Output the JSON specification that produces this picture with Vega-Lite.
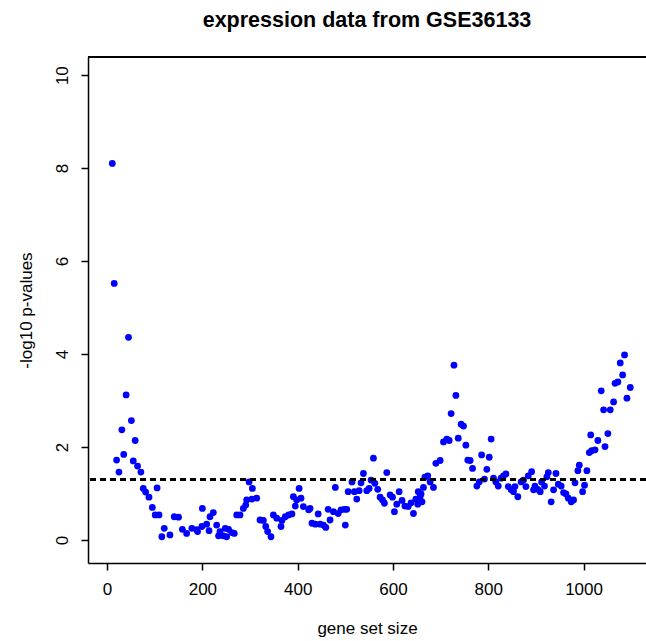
{
  "$schema": "https://vega.github.io/schema/vega-lite/v6.json",
  "autosize": {"type": "none"},
  "padding": {"left": 88, "top": 57, "right": 0, "bottom": 78},
  "width": 558,
  "height": 506,
  "background": "white",
  "title": {
    "text": "expression data from GSE36133",
    "anchor": "middle",
    "font": "Liberation Sans",
    "fontSize": 21.5,
    "fontWeight": "bold",
    "color": "black",
    "baseline": "alphabetic",
    "offset": 8
  },
  "data": {
    "values": [
      {"size": 11, "logp": 8.10}, {"size": 15, "logp": 5.52}, {"size": 45, "logp": 4.36},
      {"size": 40, "logp": 3.12}, {"size": 51, "logp": 2.57}, {"size": 31, "logp": 2.37},
      {"size": 59, "logp": 2.14}, {"size": 20, "logp": 1.72}, {"size": 35, "logp": 1.84},
      {"size": 25, "logp": 1.46}, {"size": 55, "logp": 1.70}, {"size": 64, "logp": 1.59},
      {"size": 71, "logp": 1.46}, {"size": 76, "logp": 1.11}, {"size": 81, "logp": 1.03},
      {"size": 88, "logp": 0.92}, {"size": 105, "logp": 1.12}, {"size": 95, "logp": 0.70},
      {"size": 101, "logp": 0.54}, {"size": 109, "logp": 0.54}, {"size": 120, "logp": 0.25},
      {"size": 115, "logp": 0.07}, {"size": 132, "logp": 0.11}, {"size": 141, "logp": 0.50},
      {"size": 150, "logp": 0.49}, {"size": 158, "logp": 0.23}, {"size": 167, "logp": 0.14},
      {"size": 178, "logp": 0.25}, {"size": 188, "logp": 0.22}, {"size": 199, "logp": 0.29},
      {"size": 200, "logp": 0.68}, {"size": 190, "logp": 0.18}, {"size": 209, "logp": 0.34},
      {"size": 214, "logp": 0.20}, {"size": 216, "logp": 0.50}, {"size": 223, "logp": 0.59},
      {"size": 230, "logp": 0.32}, {"size": 237, "logp": 0.18}, {"size": 234, "logp": 0.09},
      {"size": 244, "logp": 0.09}, {"size": 251, "logp": 0.07}, {"size": 248, "logp": 0.25},
      {"size": 255, "logp": 0.23}, {"size": 262, "logp": 0.16}, {"size": 267, "logp": 0.14},
      {"size": 272, "logp": 0.54}, {"size": 279, "logp": 0.54}, {"size": 286, "logp": 0.68},
      {"size": 291, "logp": 0.75}, {"size": 293, "logp": 0.86}, {"size": 304, "logp": 0.88},
      {"size": 314, "logp": 0.90}, {"size": 298, "logp": 1.25}, {"size": 305, "logp": 1.11},
      {"size": 321, "logp": 0.43}, {"size": 328, "logp": 0.42}, {"size": 333, "logp": 0.29},
      {"size": 337, "logp": 0.18}, {"size": 344, "logp": 0.07}, {"size": 349, "logp": 0.54},
      {"size": 356, "logp": 0.47}, {"size": 365, "logp": 0.29}, {"size": 367, "logp": 0.42},
      {"size": 374, "logp": 0.50}, {"size": 381, "logp": 0.54}, {"size": 388, "logp": 0.56},
      {"size": 403, "logp": 1.11}, {"size": 391, "logp": 0.93}, {"size": 398, "logp": 0.86},
      {"size": 407, "logp": 0.90}, {"size": 412, "logp": 0.72}, {"size": 395, "logp": 0.73},
      {"size": 423, "logp": 0.65}, {"size": 430, "logp": 0.36}, {"size": 426, "logp": 0.68},
      {"size": 437, "logp": 0.34}, {"size": 443, "logp": 0.56}, {"size": 447, "logp": 0.34},
      {"size": 454, "logp": 0.32}, {"size": 459, "logp": 0.27}, {"size": 464, "logp": 0.66},
      {"size": 468, "logp": 0.43}, {"size": 475, "logp": 0.61}, {"size": 479, "logp": 1.13},
      {"size": 485, "logp": 0.57}, {"size": 491, "logp": 0.65}, {"size": 498, "logp": 0.66},
      {"size": 503, "logp": 0.66}, {"size": 500, "logp": 0.32}, {"size": 506, "logp": 1.04},
      {"size": 514, "logp": 1.25}, {"size": 519, "logp": 1.04}, {"size": 524, "logp": 0.88},
      {"size": 529, "logp": 1.06}, {"size": 533, "logp": 1.23}, {"size": 538, "logp": 1.43},
      {"size": 545, "logp": 1.06}, {"size": 550, "logp": 1.11}, {"size": 554, "logp": 1.29},
      {"size": 559, "logp": 1.76}, {"size": 562, "logp": 1.22}, {"size": 568, "logp": 1.09},
      {"size": 573, "logp": 0.92}, {"size": 578, "logp": 0.86}, {"size": 582, "logp": 0.79},
      {"size": 587, "logp": 1.45}, {"size": 594, "logp": 0.97}, {"size": 599, "logp": 0.92},
      {"size": 603, "logp": 0.61}, {"size": 608, "logp": 0.77}, {"size": 613, "logp": 1.04},
      {"size": 619, "logp": 0.85}, {"size": 625, "logp": 0.73}, {"size": 632, "logp": 0.72},
      {"size": 638, "logp": 0.80}, {"size": 643, "logp": 0.57}, {"size": 648, "logp": 0.88},
      {"size": 653, "logp": 1.04}, {"size": 659, "logp": 0.99}, {"size": 664, "logp": 1.13},
      {"size": 667, "logp": 1.35}, {"size": 657, "logp": 0.93}, {"size": 661, "logp": 0.82},
      {"size": 652, "logp": 0.77}, {"size": 673, "logp": 1.38}, {"size": 678, "logp": 1.25},
      {"size": 685, "logp": 1.13}, {"size": 690, "logp": 1.65}, {"size": 699, "logp": 1.71},
      {"size": 706, "logp": 2.11}, {"size": 713, "logp": 2.17}, {"size": 718, "logp": 2.14},
      {"size": 722, "logp": 2.72}, {"size": 728, "logp": 3.76}, {"size": 732, "logp": 3.11},
      {"size": 737, "logp": 2.19}, {"size": 743, "logp": 2.49}, {"size": 748, "logp": 2.45},
      {"size": 753, "logp": 2.04}, {"size": 757, "logp": 1.72}, {"size": 762, "logp": 1.71},
      {"size": 767, "logp": 1.54}, {"size": 776, "logp": 1.16}, {"size": 781, "logp": 1.25},
      {"size": 786, "logp": 1.83}, {"size": 792, "logp": 1.31}, {"size": 797, "logp": 1.52},
      {"size": 802, "logp": 1.78}, {"size": 806, "logp": 2.17}, {"size": 811, "logp": 1.33},
      {"size": 816, "logp": 1.25}, {"size": 821, "logp": 1.16}, {"size": 827, "logp": 1.33},
      {"size": 832, "logp": 1.38}, {"size": 837, "logp": 1.42}, {"size": 842, "logp": 1.15},
      {"size": 848, "logp": 1.08}, {"size": 853, "logp": 1.04}, {"size": 856, "logp": 1.15},
      {"size": 862, "logp": 0.93}, {"size": 869, "logp": 1.25}, {"size": 874, "logp": 1.29},
      {"size": 879, "logp": 1.15}, {"size": 884, "logp": 1.38}, {"size": 891, "logp": 1.47},
      {"size": 895, "logp": 1.08}, {"size": 898, "logp": 1.16}, {"size": 904, "logp": 1.09},
      {"size": 909, "logp": 1.04}, {"size": 912, "logp": 1.25}, {"size": 918, "logp": 1.16},
      {"size": 923, "logp": 1.36}, {"size": 926, "logp": 1.45}, {"size": 932, "logp": 0.82},
      {"size": 937, "logp": 1.08}, {"size": 942, "logp": 1.43}, {"size": 947, "logp": 1.20},
      {"size": 953, "logp": 1.16}, {"size": 958, "logp": 1.02}, {"size": 963, "logp": 0.99},
      {"size": 968, "logp": 0.90}, {"size": 974, "logp": 0.82}, {"size": 979, "logp": 0.86},
      {"size": 982, "logp": 1.23}, {"size": 988, "logp": 1.49}, {"size": 991, "logp": 1.61},
      {"size": 998, "logp": 1.04}, {"size": 1002, "logp": 1.18}, {"size": 1007, "logp": 1.49},
      {"size": 1012, "logp": 1.88}, {"size": 1017, "logp": 1.92}, {"size": 1024, "logp": 1.94},
      {"size": 1030, "logp": 2.14}, {"size": 1015, "logp": 2.26}, {"size": 1045, "logp": 2.01},
      {"size": 1051, "logp": 2.29}, {"size": 1037, "logp": 3.21}, {"size": 1042, "logp": 2.80},
      {"size": 1056, "logp": 2.80}, {"size": 1063, "logp": 2.97}, {"size": 1066, "logp": 3.37},
      {"size": 1072, "logp": 3.40}, {"size": 1082, "logp": 3.55}, {"size": 1077, "logp": 3.81},
      {"size": 1086, "logp": 3.98}, {"size": 1091, "logp": 3.05}, {"size": 1098, "logp": 3.28}
    ]
  },
  "layer": [
    {
      "mark": {"type": "circle", "color": "#0000FF", "opacity": 1, "size": 46},
      "encoding": {
        "x": {
          "field": "size",
          "type": "quantitative",
          "scale": {"domain": [-40, 1131], "nice": false, "zero": false},
          "axis": {
            "title": "gene set size",
            "values": [0, 200, 400, 600, 800, 1000],
            "format": "d",
            "labelFlush": false,
            "labelPadding": 11,
            "titlePadding": 23
          }
        },
        "y": {
          "field": "logp",
          "type": "quantitative",
          "scale": {"domain": [-0.495, 10.39], "nice": false, "zero": false},
          "axis": {
            "title": "-log10 p-values",
            "values": [0, 2, 4, 6, 8, 10],
            "format": "d",
            "labelAngle": 270,
            "labelAlign": "center",
            "labelBaseline": "bottom",
            "labelPadding": 10,
            "titlePadding": 18
          }
        }
      }
    },
    {
      "mark": {"type": "rule", "color": "black", "strokeWidth": 2, "strokeDash": [6, 4]},
      "encoding": {"y": {"datum": 1.301}}
    },
    {
      "mark": {"type": "rule", "color": "black", "strokeWidth": 1.5},
      "encoding": {"y": {"datum": 10.39}}
    }
  ],
  "config": {
    "view": {"stroke": null},
    "font": "Liberation Sans",
    "axis": {
      "grid": false,
      "domainColor": "black",
      "domainWidth": 1.5,
      "tickColor": "black",
      "tickWidth": 1.5,
      "tickSize": 7,
      "labelColor": "black",
      "labelFont": "Liberation Sans",
      "labelFontSize": 17,
      "titleColor": "black",
      "titleFont": "Liberation Sans",
      "titleFontSize": 17,
      "titleFontWeight": "normal"
    }
  }
}
